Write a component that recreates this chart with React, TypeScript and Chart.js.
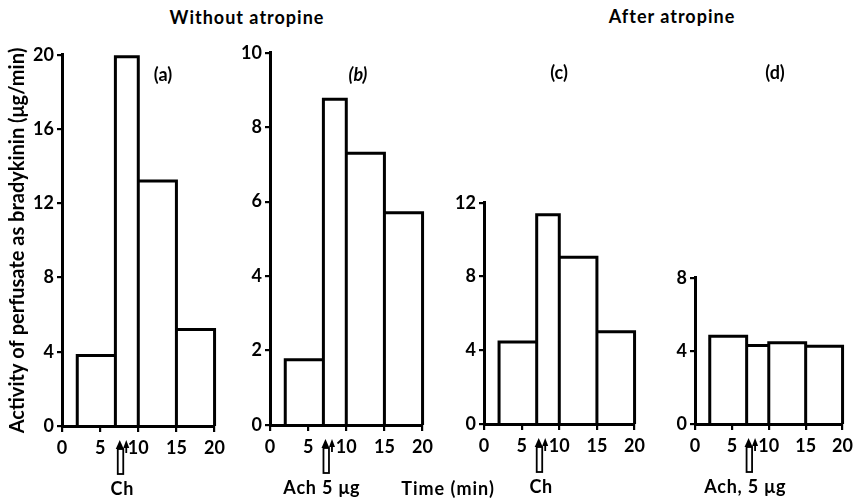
import React, { useEffect, useRef } from 'react';
import { Chart, registerables } from 'chart.js';

Chart.register(...registerables);

// ---- data ----
const timeEdges = [2, 7, 10, 15, 20];
const xTickValues = [0, 5, 10, 15, 20];
const valuesA = [3.8, 19.9, 13.2, 5.2];
const valuesB = [1.75, 8.75, 7.3, 5.7];
const valuesC = [4.45, 11.35, 9.05, 5.0];
const valuesD = [4.8, 4.3, 4.45, 4.25];
const yMaxValues = [20, 10, 12, 8];
const yStepValues = [4, 2, 4, 4];
const panelLetters = ['(a)', '(b)', '(c)', '(d)'];
const injectionLabels = ['Ch', 'Ach 5 μg', 'Ch', 'Ach, 5 μg'];
const injectionTimes = [7.9, 7.6, 7.6, 7.6];
const injectionLabelCenters = [7.9, 6.8, 7.6, 6.8];
const groupTitles = ['Without atropine', 'After atropine'];
const yAxisTitle = 'Activity of perfusate as bradykinin (μg/min)';
const xAxisTitle = 'Time (min)';

const panelValues = [valuesA, valuesB, valuesC, valuesD];

// ---- layout ----
const FONT = 'Lato, "Noto Sans", sans-serif';
const layouts = [
  { left: 0, top: 41, width: 230, height: 461, axisW: 62, axisH: 76, padR: 14 },
  { left: 230, top: 39, width: 208, height: 463, axisW: 40, axisH: 77, padR: 14 },
  { left: 440, top: 189, width: 210, height: 313, axisW: 44, axisH: 78, padR: 14 },
  { left: 655, top: 264, width: 203, height: 238, axisW: 40, axisH: 78, padR: 13 },
];

function outline(values: number[]) {
  const pts: { x: number; y: number }[] = [];
  values.forEach((v, i) => {
    pts.push({ x: timeEdges[i], y: 0 });
    pts.push({ x: timeEdges[i], y: v });
    pts.push({ x: timeEdges[i + 1], y: v });
    pts.push({ x: timeEdges[i + 1], y: 0 });
  });
  return pts;
}

const injectionPlugin = {
  id: 'injection',
  afterDraw(chart: any, _args: any, opts: any) {
    const { ctx, chartArea } = chart;
    const xs = chart.scales.x;
    const px = xs.getPixelForValue(opts.time);
    const yb = chartArea.bottom;
    ctx.save();
    ctx.fillStyle = '#000';
    ctx.strokeStyle = '#000';
    ctx.lineWidth = 1.8;
    // left arrow head
    ctx.beginPath();
    ctx.moveTo(px - 2.5, yb + 14);
    ctx.lineTo(px - 6.5, yb + 23);
    ctx.lineTo(px + 1.5, yb + 23);
    ctx.closePath();
    ctx.fill();
    // hollow shaft
    ctx.strokeRect(px - 4.5, yb + 23, 5.5, 25);
    // right arrow head
    ctx.beginPath();
    ctx.moveTo(px + 4, yb + 14);
    ctx.lineTo(px + 1, yb + 22);
    ctx.lineTo(px + 7, yb + 22);
    ctx.closePath();
    ctx.fill();
    ctx.beginPath();
    ctx.moveTo(px + 4, yb + 21);
    ctx.lineTo(px + 4, yb + 27);
    ctx.stroke();
    // label
    ctx.font = `bold 18px ${FONT}`;
    (ctx as any).letterSpacing = '0.8px';
    ctx.textAlign = 'center';
    ctx.textBaseline = 'alphabetic';
    ctx.fillText(opts.label, xs.getPixelForValue(opts.labelAt), yb + 69);
    ctx.restore();
  },
};

const tickFont = { family: FONT, size: 18, weight: 'bold' as const };

function Panel({ index }: { index: number }) {
  const ref = useRef<HTMLCanvasElement | null>(null);
  const L = layouts[index];
  useEffect(() => {
    if (!ref.current) return;
    const chart = new Chart(ref.current, {
      type: 'line',
      data: {
        datasets: [
          {
            data: outline(panelValues[index]),
            borderColor: '#000',
            borderWidth: 3,
            pointRadius: 0,
            fill: false,
            tension: 0,
            clip: false as any,
            borderJoinStyle: 'miter',
          },
        ],
      },
      options: {
        animation: false,
        responsive: false,
        events: [],
        layout: { padding: { top: 10, right: L.padR, left: 0, bottom: 0 } },
        plugins: {
          legend: { display: false },
          tooltip: { enabled: false },
          injection: {
            time: injectionTimes[index],
            label: injectionLabels[index],
            labelAt: injectionLabelCenters[index],
          },
        } as any,
        scales: {
          x: {
            type: 'linear',
            min: 0,
            max: 20,
            afterBuildTicks: (s: any) => {
              s.ticks = xTickValues.map((v) => ({ value: v }));
            },
            afterFit: (s: any) => {
              s.height = L.axisH;
            },
            ticks: { color: '#000', font: tickFont, padding: 5, maxRotation: 0 },
            grid: { display: true, drawOnChartArea: false, drawTicks: true, tickLength: 6, color: '#000', lineWidth: 2.2 },
            border: { display: true, color: '#000', width: 3 },
          },
          y: {
            type: 'linear',
            min: 0,
            max: yMaxValues[index],
            ticks: { stepSize: yStepValues[index], color: '#000', font: tickFont, padding: 3 },
            afterFit: (s: any) => {
              s.width = L.axisW;
            },
            grid: { display: true, drawOnChartArea: false, drawTicks: true, tickLength: 5, color: '#000', lineWidth: 2.2 },
            border: { display: true, color: '#000', width: 3 },
            title: {
              display: index === 0,
              text: yAxisTitle,
              color: '#000',
              font: { family: FONT, size: 20, weight: 'bold' },
              padding: { top: 6, bottom: 0 },
            },
          },
        },
      },
      plugins: [injectionPlugin],
    } as any);
    return () => chart.destroy();
  }, [index]);
  return (
    <canvas
      ref={ref}
      width={L.width}
      height={L.height}
      style={{ position: 'absolute', left: L.left, top: L.top, width: L.width, height: L.height }}
    />
  );
}

const textStyle: React.CSSProperties = {
  position: 'absolute',
  fontFamily: FONT,
  fontSize: 18,
  fontWeight: 'bold',
  lineHeight: '18px',
  color: '#000',
  whiteSpace: 'nowrap',
  transform: 'translateX(-50%)',
};

const letterPos = [
  { x: 163, y: 65, italic: false },
  { x: 358, y: 65, italic: true },
  { x: 559, y: 63, italic: false },
  { x: 775, y: 63, italic: false },
];

export default function App() {
  return (
    <div style={{ position: 'fixed', left: 0, top: 0, width: 858, height: 502, background: '#fff', overflow: 'hidden' }}>
      {[0, 1, 2, 3].map((i) => (
        <Panel key={i} index={i} />
      ))}
      <div style={{ ...textStyle, left: 247, top: 8, letterSpacing: 1 }}>{groupTitles[0]}</div>
      <div style={{ ...textStyle, left: 672, top: 7, letterSpacing: 1 }}>{groupTitles[1]}</div>
      {panelLetters.map((t, i) => (
        <div key={t} style={{ ...textStyle, left: letterPos[i].x, top: letterPos[i].y, fontStyle: letterPos[i].italic ? 'italic' : 'normal' }}>
          {t}
        </div>
      ))}
      <div style={{ ...textStyle, left: 448, top: 479, letterSpacing: 1 }}>{xAxisTitle}</div>
    </div>
  );
}
